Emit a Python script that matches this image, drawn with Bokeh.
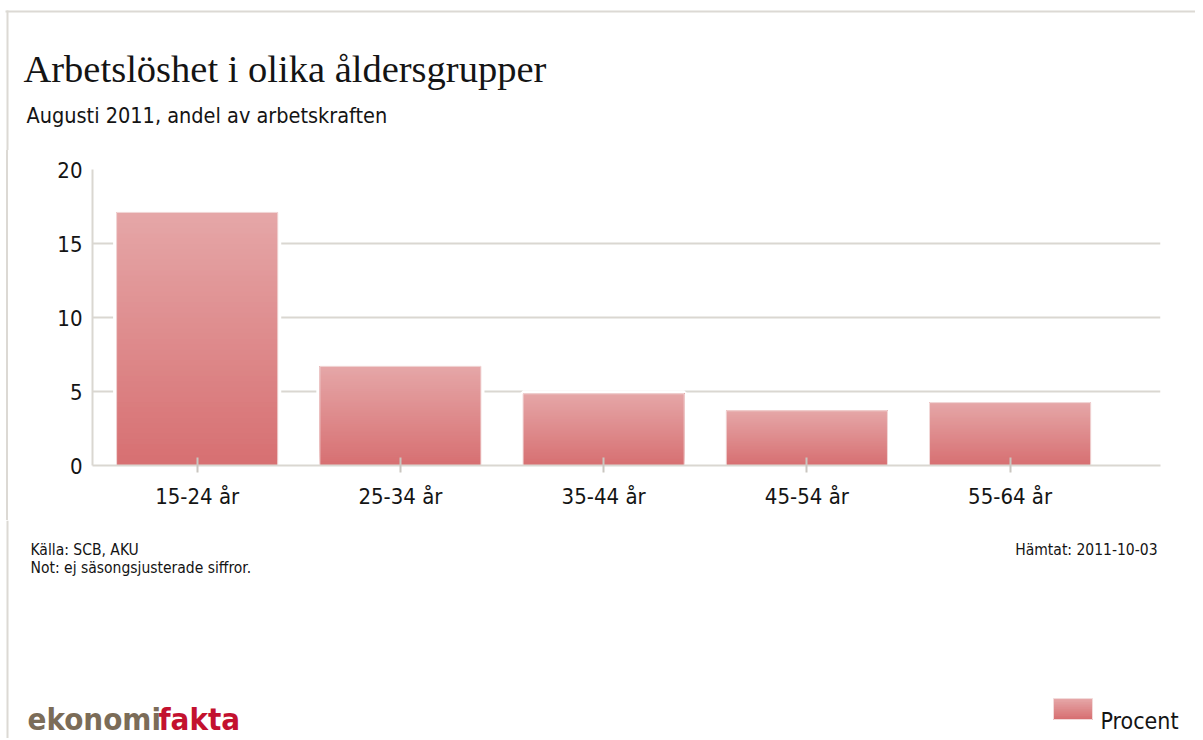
from bokeh.plotting import figure
from bokeh.models import Range1d, FixedTicker
from bokeh.embed import file_html
from bokeh.resources import INLINE
from bokeh.core.properties import value

# ---------------- data ----------------
categories = ["15-24 år", "25-34 år", "35-44 år", "45-54 år", "55-64 år"]
procent = [17.1, 6.7, 4.85, 3.7, 4.25]
y_ticks = [0, 5, 10, 15, 20]

title_text = "Arbetslöshet i olika åldersgrupper"
subtitle_text = "Augusti 2011, andel av arbetskraften"
source_text = "Källa: SCB, AKU"
note_text = "Not: ej säsongsjusterade siffror."
fetched_text = "Hämtat: 2011-10-03"
legend_text = "Procent"
logo_a = "ekonomi"
logo_b = "fakta"

# ---------------- layout ----------------
W = 1195
HEAD_H = 150          # page y 0..150
MAIN_TOP, MAIN_BOT = 150, 520
FOOT_BOT = 738
FL, FR, FT, FB = 92, 1160, 169, 465   # chart frame in page pixels

SANS = "DejaVu Sans Condensed"
TXT = "#141414"
GRID = "#dad7d1"
FRAME_C = "#dcd9d4"
TOP_RGB = (229, 166, 167)
BOT_RGB = (215, 112, 114)


def blend(t):
    return "#%02x%02x%02x" % tuple(round(b + (a - b) * t) for a, b in zip(TOP_RGB, BOT_RGB))


def panel(y0, y1):
    f = figure(width=W, height=y1 - y0, output_backend="svg", toolbar_location=None,
               x_range=Range1d(0, W), y_range=Range1d(y1, y0),
               x_axis_type=None, y_axis_type=None,
               min_border=0, min_border_left=0, min_border_right=0,
               min_border_top=0, min_border_bottom=0)
    f.outline_line_color = None
    f.grid.visible = False
    f.background_fill_color = "white"
    f.border_fill_color = "white"
    # left frame line
    f.quad(left=[6], right=[8], top=[max(y0, 10)], bottom=[y1], fill_color=FRAME_C, line_color=None)
    return f


def txt(f, s, x, y, font, size, color=TXT, align="left", style="normal"):
    f.text(x=[x], y=[y], text=[s], text_font=value(font), text_font_size=value(size),
           text_color=color, text_align=align, text_baseline="alphabetic",
           text_font_style=style)


# ---------------- header ----------------
head = panel(0, HEAD_H)
head.quad(left=[5], right=[W], top=[10], bottom=[12], fill_color=FRAME_C, line_color=None)
txt(head, title_text, 23, 68, "Liberation Serif", "38.5px")
txt(head, subtitle_text, 26, 115, SANS, "21.5px")

# ---------------- main chart ----------------
xs = [i + 1 for i in range(len(categories))]
p = figure(width=W, height=MAIN_BOT - MAIN_TOP, output_backend="svg", toolbar_location=None,
           x_range=Range1d(0.485, 5.74), y_range=Range1d(0, 20),
           min_border_left=FL, min_border_right=W - FR,
           min_border_top=FT - MAIN_TOP, min_border_bottom=MAIN_BOT - FB)
p.outline_line_color = None
p.background_fill_color = "white"
p.border_fill_color = None
p.styles = {"background": "linear-gradient(to right, white 6px, %s 6px, %s 8px, white 8px)" % (FRAME_C, FRAME_C)}

p.xgrid.grid_line_color = None
p.ygrid.grid_line_color = GRID
p.ygrid.grid_line_width = 2
p.ygrid.ticker = FixedTicker(ticks=y_ticks)

p.yaxis.ticker = FixedTicker(ticks=y_ticks)
p.yaxis.axis_line_color = GRID
p.yaxis.axis_line_width = 2
p.yaxis.major_tick_line_color = None
p.yaxis.minor_tick_line_color = None
p.yaxis.major_label_text_font = SANS
p.yaxis.major_label_text_font_size = "22px"
p.yaxis.major_label_text_color = TXT
p.yaxis.major_label_standoff = 4

p.xaxis.ticker = FixedTicker(ticks=xs)
p.xaxis.major_label_overrides = {x: c for x, c in zip(xs, categories)}
p.xaxis.axis_line_color = GRID
p.xaxis.axis_line_width = 2
p.xaxis.major_tick_line_color = "#c9c6c0"
p.xaxis.major_tick_line_width = 2
p.xaxis.major_tick_in = 8
p.xaxis.major_tick_out = 7
p.xaxis.minor_tick_line_color = None
p.xaxis.major_label_text_font = SANS
p.xaxis.major_label_text_font_size = "22px"
p.xaxis.major_label_text_color = TXT
p.xaxis.major_label_standoff = 11

BAR_W = 0.793
# white halo that interrupts the grid lines around each bar
p.vbar(x=xs, top=procent, bottom=0, width=BAR_W, fill_color="white",
       line_color="white", line_width=7)

# vertical gradient: overlapping strips, each reaching the bar top
N = 48
sx, sb, st, sc = [], [], [], []
for k in range(N):
    t = k / (N - 1)
    for x, v in zip(xs, procent):
        sx.append(x)
        sb.append(v * k / N)
        st.append(v)
        sc.append(blend(t))
p.vbar(x=sx, bottom=sb, top=st, width=BAR_W, fill_color=sc, line_color=None)
p.vbar(x=xs, top=procent, bottom=0, width=BAR_W, fill_color=None,
       line_color="#f2dada", line_width=1)

# ---------------- footer ----------------
foot = panel(MAIN_BOT, FOOT_BOT)
txt(foot, source_text, 30, 549, SANS, "15.5px")
txt(foot, note_text, 30, 567, SANS, "15.5px")
txt(foot, fetched_text, 1157, 549, SANS, "15.5px", align="right")
txt(foot, logo_a, 27, 718, SANS, "31px", color="#7b6c58", style="bold")
txt(foot, logo_b, 158, 718, SANS, "31px", color="#c3112f", style="bold")

# legend swatch (gradient) and label
LN = 12
foot.quad(left=[1053] * LN, right=[1092] * LN,
          top=[698 + 21 * k / LN for k in range(LN)], bottom=[719] * LN,
          fill_color=[blend(1 - k / (LN - 1)) for k in range(LN)], line_color=None)
foot.quad(left=[1053], right=[1092], top=[698], bottom=[719], fill_color=None,
          line_color="#f2dada", line_width=1)
txt(foot, legend_text, 1100, 720, SANS, "23px")

open("out.html", "w").write(file_html([head, p, foot], INLINE))
